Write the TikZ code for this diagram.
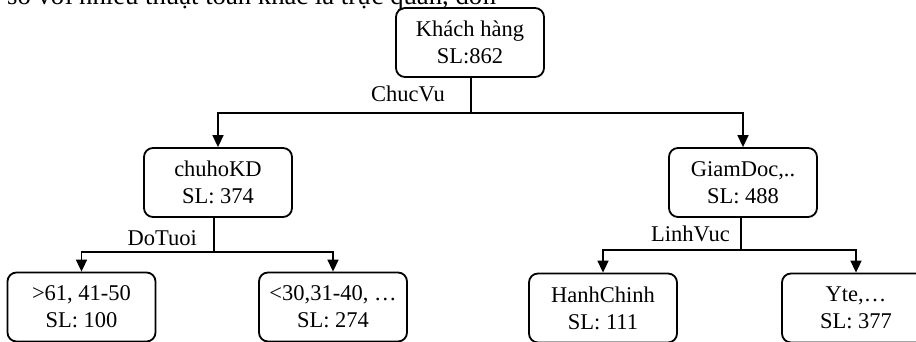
\documentclass[tikz,border=0pt]{standalone}
\usepackage{fontspec}
\setmainfont{Liberation Serif}
\usetikzlibrary{arrows.meta}
\tikzset{
  box/.style={draw, line width=1.8pt, rounded corners=9pt, minimum width=148pt, minimum height=69pt,
    align=center, inner sep=0pt, font=\fontsize{22.5}{27}\selectfont},
  conn/.style={line width=1.6pt},
  arr/.style={conn, -{Triangle[width=11pt,length=12pt]}},
  lbl/.style={inner sep=0pt, font=\fontsize{22.5}{27}\selectfont},
  body/.style={inner sep=0pt, font=\fontsize{26.7}{32}\selectfont}
}
\begin{document}
\begin{tikzpicture}[x=1pt,y=-1pt]
\useasboundingbox (0,0) rectangle (916,342);
\clip (0,0) rectangle (916,342);
\fill[white] (0,0) rectangle (916,342);
\node[body, anchor=base west] (txt) at (7,5) {so với nhiều thuật toán khác là trực quan, đơn};

\node[box] (root) at (470,42.5) {Khách hàng\\SL:862};
\node[box] (c1) at (218,182.5) {chuhoKD\\SL: 374};
\node[box] (c2) at (743,182.5) {GiamDoc,..\\SL: 488};
\node[box] (l1) at (81.5,307) {>61, 41-50\\SL: 100};
\node[box] (l2) at (333,307) {<30,31-40, …\\SL: 274};
\node[box] (l3) at (603,308) {HanhChinh\\SL: 111};
\node[box] (l4) at (856,308) {Yte,…\\SL: 377};

\coordinate (j0) at (471,113);
\coordinate (j1) at (214,252);
\coordinate (j2) at (741,250);

\draw[conn] (root.south -| j0) -- (j0);
\draw[arr] (j0) -| (c1.north);
\draw[arr] (j0) -| (c2.north);

\draw[conn] (c1.south -| j1) -- (j1);
\draw[arr] (j1) -| (l1.north);
\draw[arr] (j1) -| (l2.north);

\draw[conn] (c2.south -| j2) -- (j2);
\draw[arr] (j2) -| (l3.north);
\draw[arr] (j2) -| (l4.north);

\node[lbl, anchor=base east] (t0) at (445,102) {ChucVu};
\node[lbl, anchor=base east] (t1) at (197,245) {DoTuoi};
\node[lbl, anchor=base east] (t2) at (730,241) {LinhVuc};
\end{tikzpicture}
\end{document}
